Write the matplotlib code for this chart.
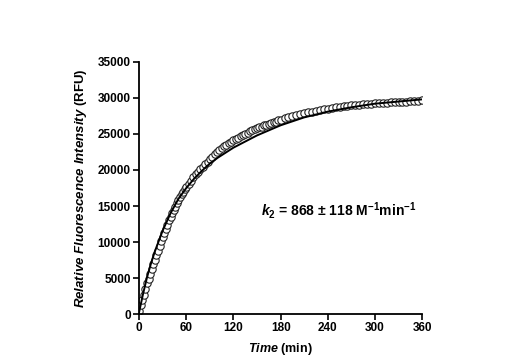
import matplotlib
matplotlib.use("Agg")
import matplotlib.pyplot as plt

plt.rcParams['font.family'] = ['Liberation Sans', 'DejaVu Sans']
plt.rcParams['mathtext.fontset'] = 'custom'
plt.rcParams['mathtext.rm'] = 'Liberation Sans:bold'
plt.rcParams['mathtext.it'] = 'Liberation Sans:italic:bold'
plt.rcParams['mathtext.bf'] = 'Liberation Sans:bold'

# measured points
time_obs = (list(range(0, 61, 2)) + list(range(63, 181, 3))
            + list(range(185, 361, 5)))
rfu_obs = [500, 1200, 1900, 2600, 3500, 4300, 4900, 5600, 6200, 6900,
           7500, 8200, 8800, 9400, 10100, 10700, 11300, 11800, 12400, 13000,
           13500, 14000, 14500, 14900, 15400, 15800, 16200, 16600, 16900, 17300,
           17600,
           18100, 18500, 19000, 19400, 19700, 20100, 20400, 20800, 21100, 21500,
           21800, 22200, 22500, 22800, 23000, 23300, 23500, 23700, 23900, 24100,
           24300, 24500, 24700, 24800, 25000, 25200, 25400, 25500, 25700, 25800,
           25900, 26000, 26200, 26300, 26400, 26500, 26600, 26700, 26900, 27000,
           27200, 27300, 27500, 27600, 27800, 27900, 28000, 28100, 28200, 28300,
           28400, 28500, 28600, 28700, 28800, 28850, 28900, 28950, 29000, 29050,
           29100, 29150, 29200, 29250, 29300, 29300, 29350, 29400, 29400, 29450,
           29500, 29500, 29550, 29550, 29600, 29650]

# fitted curve
time_fit = [0, 5, 10, 15, 20, 30, 40, 50, 60, 70, 80, 90, 100, 120, 150, 180,
            210, 240, 270, 300, 330, 360]
rfu_fit = [300, 2800, 5100, 7000, 8700, 11600, 14000, 16000, 17500, 18800,
           19900, 20900, 21700, 23100, 24800, 26200, 27300, 28100, 28700,
           29200, 29500, 29800]

fig = plt.figure(figsize=(5.29, 3.64), dpi=100)
ax = fig.add_axes([0.263, 0.137, 0.535, 0.693])

ax.plot(time_obs, rfu_obs, 'o', markersize=5.3, markerfacecolor='white',
        markeredgecolor='#222222', markeredgewidth=0.8, zorder=2)
ax.plot(time_fit, rfu_fit, '-', color='black', linewidth=1.4, zorder=3)

ax.set_xlim(0, 360)
ax.set_ylim(0, 35000)
ax.set_xticks(range(0, 361, 60))
ax.set_yticks(range(0, 35001, 5000))

for s in ['top', 'right']:
    ax.spines[s].set_visible(False)
for s in ['left', 'bottom']:
    ax.spines[s].set_linewidth(1.3)
ax.tick_params(direction='out', length=4, width=1.2, labelsize=8.5, pad=2)
for lab in ax.get_xticklabels() + ax.get_yticklabels():
    lab.set_fontweight('bold')

ax.set_xlabel(r'$\mathit{Time}$ (min)', fontsize=9, fontweight='bold', labelpad=5)
ax.set_ylabel(r'$\mathit{Relative\ Fluorescence\ Intensity}$ (RFU)',
              fontsize=9.5, fontweight='bold', labelpad=6)

ax.text(0.43, 0.41, r'$k_2$ = 868 ± 118 M$^{-1}$min$^{-1}$', transform=ax.transAxes,
        fontsize=10, fontweight='bold', ha='left', va='center')

fig.savefig('out.png', dpi=100)
